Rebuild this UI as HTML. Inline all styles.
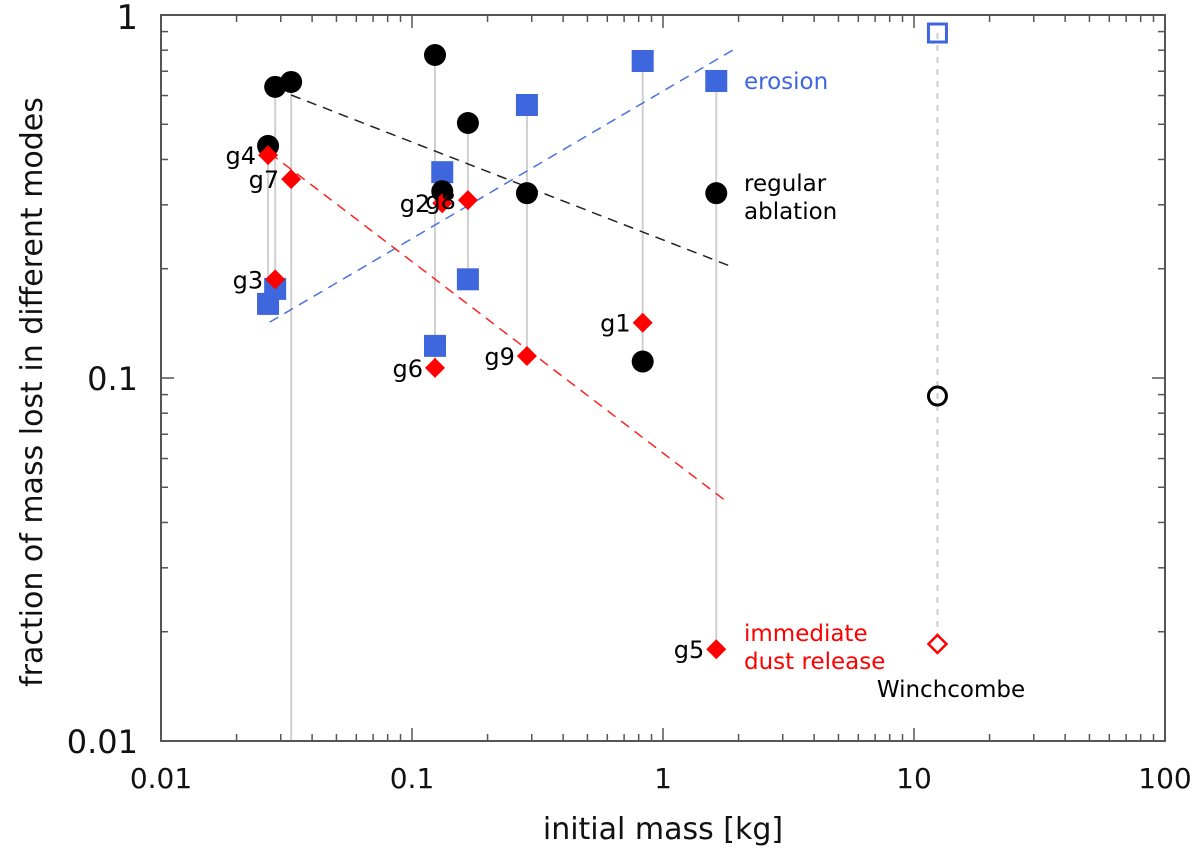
<!DOCTYPE html>
<html><head><meta charset="utf-8"><style>
body{margin:0;background:#fff;}
svg{display:block;font-family:"DejaVu Sans","Liberation Sans",sans-serif;}
</style></head><body>
<svg id="chart" width="1200" height="848"></svg>
<script>
const labels=["g4","g3","g7","g6","g2","g8","g9","g1","g5"];
const masses=[0.0267,0.0285,0.033,0.1235,0.132,0.167,0.287,0.83,1.63];
const ablation=[0.436,0.634,0.654,0.776,0.327,0.504,0.323,0.111,0.323];
const erosion=[0.160,0.176,0.001,0.1226,0.369,0.187,0.565,0.747,0.658];
const dust=[0.411,0.187,0.353,0.1066,0.303,0.309,0.115,0.142,0.0179];
const winchMass=[12.4];
const winchAbl=[0.0892];
const winchEro=[0.892];
const winchDust=[0.0185];
const fitAblX=[0.033,1.9], fitAblY=[0.602,0.202];
const fitEroX=[0.0271,1.99], fitEroY=[0.1425,0.816];
const fitDustX=[0.0271,1.82], fitDustY=[0.4167,0.0453];
const xTicks=[0.01,0.1,1,10,100];
const xTickLabels=["0.01","0.1","1","10","100"];
const yTicks=[0.01,0.1,1];
const yTickLabels=["0.01","0.1","1"];

const L=161,R=1165,T=15,B=741;
const X=v=>L+(Math.log10(v)+2)/4*(R-L);
const Y=v=>{let py=T+(-Math.log10(v))/2*(B-T);return Math.min(py,B);};
const NS="http://www.w3.org/2000/svg";
const svg=document.getElementById('chart');
function mk(tag,attrs,parent){const e=document.createElementNS(NS,tag);for(const k in attrs)e.setAttribute(k,attrs[k]);(parent||svg).appendChild(e);return e;}

const tg=mk('g',{stroke:'#555','stroke-width':1.5});


for(let d=-2;d<2;d++){for(let m=1;m<10;m++){const v=m*Math.pow(10,d);const x=X(v);const len=m==1?13:7;
mk('line',{x1:x,x2:x,y1:B,y2:B-len},tg);mk('line',{x1:x,x2:x,y1:T,y2:T+len},tg);}}
for(let d=-2;d<0;d++){for(let m=1;m<10;m++){const v=m*Math.pow(10,d);const y=Y(v);const len=m==1?13:7;
mk('line',{x1:L,x2:L+len,y1:y,y2:y},tg);mk('line',{x1:R,x2:R-len,y1:y,y2:y},tg);}}
xTicks.forEach((v,i)=>{const t=mk('text',{x:X(v),y:788,'text-anchor':'middle','font-size':28,fill:'#111'});t.textContent=xTickLabels[i];

});
yTicks.forEach((v,i)=>{const t=mk('text',{x:138,y:Y(v)+(i==2?14:12),'text-anchor':'end','font-size':i==2?34:32,fill:'#111'});t.textContent=yTickLabels[i];

});

masses.forEach((m,i)=>{const vals=[ablation[i],erosion[i],dust[i]];
const l=mk('line',{x1:X(m),x2:X(m),y1:Y(Math.max(...vals)),y2:Y(Math.min(...vals)),stroke:'#d0d0d0','stroke-width':2});

});
const wl=mk('line',{x1:X(winchMass[0]),x2:X(winchMass[0]),y1:Y(winchEro[0]),y2:Y(winchDust[0]),stroke:'#ccc','stroke-width':2,'stroke-dasharray':'6,6'});



[[fitAblX,fitAblY,'#222','ablation-fit'],[fitEroX,fitEroY,'#4a72e0','erosion-fit'],[fitDustX,fitDustY,'#f22','dust-fit']].forEach(f=>{
const l=mk('line',{x1:X(f[0][0]),y1:Y(f[1][0]),x2:X(f[0][1]),y2:Y(f[1][1]),stroke:f[2],'stroke-width':1.5,'stroke-dasharray':'10,7'});

});

masses.forEach((m,i)=>{const x=X(m);
if(erosion[i]>=0.01){const s=mk('rect',{x:x-11,y:Y(erosion[i])-11,width:22,height:22,fill:'#3e66dd'});

}
const c=mk('circle',{cx:x,cy:Y(ablation[i]),r:11,fill:'#000'});


const y=Y(dust[i]);
const d=mk('polygon',{points:`${x},${y-10} ${x+10},${y} ${x},${y+10} ${x-10},${y}`,fill:'#f00'});


const t=mk('text',{x:x-12,y:y+9,'text-anchor':'end','font-size':24,fill:'#000'});t.textContent=labels[i];

});
{const x=X(winchMass[0]);
const s=mk('rect',{x:x-9,y:Y(winchEro[0])-9,width:18,height:18,fill:'none',stroke:'#3e66dd','stroke-width':3});


const c=mk('circle',{cx:x,cy:Y(winchAbl[0]),r:9,fill:'none',stroke:'#000','stroke-width':3});


const y=Y(winchDust[0]);
const d=mk('polygon',{points:`${x},${y-9} ${x+9},${y} ${x},${y+9} ${x-9},${y}`,fill:'#fff',stroke:'#f00','stroke-width':2.5});

}

const fr=mk('rect',{x:L,y:T,width:R-L,height:B-T,fill:'none',stroke:'#555','stroke-width':2});



function txt(s,x,y,fill,size,name,anchor){const t=mk('text',{x:x,y:y,'font-size':size,fill:fill,'text-anchor':anchor||'start'});t.textContent=s;

return t;}
txt('erosion',744,89,'#3e66dd',23,'erosion-annotation');
txt('regular',744,191,'#000',23,'ablation-annotation-line1');
txt('ablation',744,219,'#000',23,'ablation-annotation-line2');
txt('immediate',744,641,'#f00',23,'dust-annotation-line1');
txt('dust release',744,669,'#f00',23,'dust-annotation-line2');
txt('Winchcombe',951,697,'#000',23,'winchcombe-label','middle');
txt('initial mass [kg]',663,839,'#111',30,'x-axis-title','middle');
const yt=txt('fraction of mass lost in different modes',0,0,'#111',30,'y-axis-title','middle');
yt.setAttribute('transform','translate(42,392) rotate(-90)');
</script>
</body></html>
